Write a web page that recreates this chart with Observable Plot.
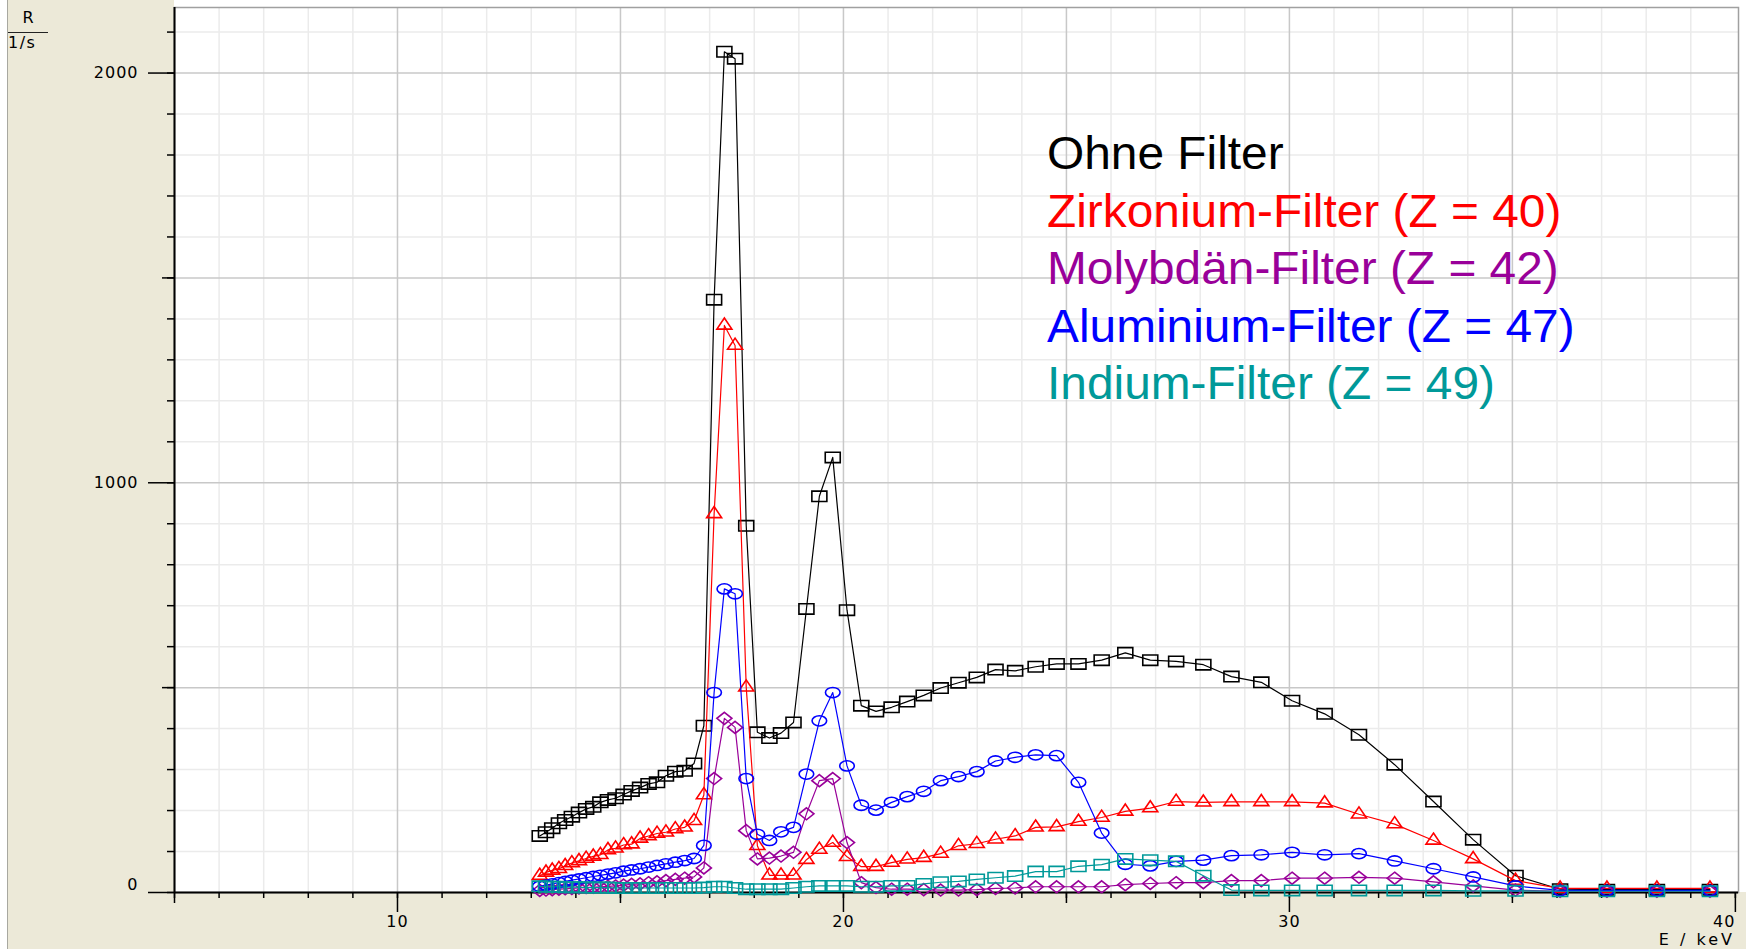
<!DOCTYPE html>
<html><head><meta charset="utf-8">
<script src="https://cdn.jsdelivr.net/npm/d3@7"></script>
<script src="https://cdn.jsdelivr.net/npm/@observablehq/plot@0.6"></script>
<style>
html,body{margin:0;padding:0;background:#fff;}
#wrap{position:relative;width:1746px;height:949px;overflow:hidden;background:#fff;}
#beige{position:absolute;left:7px;top:0;width:1739px;height:949px;background:#ECE9D8;border-left:1px solid #a8a8a0;}
#white{position:absolute;left:174px;top:0;width:1572px;height:892px;background:#fff;}
#chart{position:absolute;left:0;top:0;}
.lg{position:absolute;left:1047px;top:124px;font-family:Arial,"Liberation Sans",sans-serif;font-size:47px;line-height:57.5px;transform-origin:0 0;white-space:nowrap;}
.ax{position:absolute;font-family:"DejaVu Sans",sans-serif;font-size:16px;color:#000;white-space:nowrap;}
</style></head>
<body>
<div id="wrap">
  <div id="beige"></div>
  <div id="white"></div>
  <div id="chart"></div>
  <div class="ax" style="left:8px;top:8px;width:40px;text-align:center;">R</div>
  <div style="position:absolute;left:8px;top:32px;width:40px;height:1px;background:#222;"></div>
  <div class="ax" style="left:8px;top:33px;letter-spacing:1.5px;">1/s</div>
  <div class="ax" style="left:1635px;top:930px;width:100px;text-align:right;font-size:16px;letter-spacing:3px;">E / keV</div>
  <div class="lg" id="legend"></div>
</div>
<script>
// Energy E / keV of each measured point
const energy = [13.19, 13.33, 13.47, 13.62, 13.76, 13.91, 14.07, 14.23, 14.39, 14.55,
  14.72, 14.89, 15.07, 15.25, 15.44, 15.63, 15.82, 16.02, 16.23, 16.44,
  16.65, 16.87, 17.10, 17.33, 17.57, 17.82, 18.07, 18.34, 18.60, 18.88,
  19.17, 19.46, 19.76, 20.08, 20.40, 20.73, 21.08, 21.43, 21.80, 22.18,
  22.58, 22.99, 23.41, 23.85, 24.31, 24.78, 25.27, 25.79, 26.32, 26.88,
  27.46, 28.07, 28.70, 29.37, 30.06, 30.79, 31.56, 32.36, 33.23, 34.12,
  35.07, 36.07, 37.12, 38.24, 39.43];

// Count rate R / (1/s)
const ohneFilter = [138, 147, 157, 169, 177, 185, 195, 204, 209, 220,
  226, 230, 239, 248, 256, 265, 269, 285, 295, 297,
  315, 407, 1447, 2052, 2035, 895, 391, 377, 389, 415,
  692, 967, 1062, 689, 456, 442, 452, 466, 481, 499,
  512, 525, 544, 541, 551, 558, 558, 567, 585, 567,
  564, 556, 527, 513, 468, 436, 385, 312, 222, 129,
  41, 8, 7, 7, 7];
const zirkonium = [41, 49, 54, 58, 65, 72, 77, 83, 88, 92,
  104, 108, 116, 118, 132, 138, 144, 147, 155, 159,
  175, 238, 924, 1384, 1335, 501, 114, 42, 42, 42,
  80, 105, 122, 87, 63, 63, 73, 81, 85, 95,
  114, 119, 130, 138, 159, 160, 173, 183, 198, 206,
  222, 220, 221, 221, 221, 218, 191, 167, 127, 82,
  29, 10, 10, 10, 10];
const molybdaen = [5, 6, 7, 8, 9, 10, 11, 12, 13, 14,
  15, 16, 18, 20, 21, 24, 26, 29, 32, 35,
  38, 60, 278, 425, 403, 151, 82, 84, 89, 98,
  192, 273, 278, 122, 24, 12, 8, 8, 7, 6,
  6, 7, 10, 11, 14, 14, 14, 14, 19, 22,
  24, 24, 29, 29, 35, 35, 37, 35, 26, 16,
  6, 3, 3, 3, 3];
const aluminium = [15, 18, 21, 24, 27, 30, 33, 36, 39, 42,
  45, 48, 52, 55, 58, 62, 66, 70, 74, 78,
  83, 115, 488, 741, 729, 278, 142, 127, 148, 159,
  289, 419, 488, 309, 213, 201, 220, 234, 247, 273,
  283, 295, 321, 330, 336, 334, 269, 145, 69, 65,
  76, 79, 90, 92, 98, 92, 95, 77, 58, 38,
  16, 5, 5, 5, 5];
const indium = [15, 14, 14, 14, 13, 13, 13, 12, 12, 12,
  12, 11, 11, 11, 11, 11, 11, 11, 11, 11,
  11, 12, 14, 14, 11, 8, 8, 8, 8, 11,
  14, 16, 16, 16, 14, 14, 16, 16, 21, 25,
  27, 32, 36, 40, 51, 51, 64, 68, 82, 79,
  76, 41, 6, 5, 5, 5, 5, 5, 5, 4,
  4, 3, 3, 3, 3];

const seriesNames = ["Ohne Filter", "Zirkonium-Filter (Z = 40)", "Molybdän-Filter (Z = 42)", "Aluminium-Filter (Z = 47)", "Indium-Filter (Z = 49)"];
const seriesColors = ["#000000", "#ff0000", "#990099", "#0000ff", "#009999"];
const seriesValues = [ohneFilter, zirkonium, molybdaen, aluminium, indium];

// ticks
const xLabelTicks = [10, 20, 30];
const xEndTick = [40];
const xMediumTicks = [5, 15, 25, 35];
const xMinorTicks = d3.range(5, 41, 1);
const yLabelTicks = [1000, 2000];
const yZeroTick = [0];
const yMediumTicks = [500, 1500];
const yMinorTicks = d3.range(0, 2200, 100);

// marker shapes (≈15 px wide, slightly flattened like the original)
const square = {draw(c){c.moveTo(-7.5,-5.2);c.lineTo(7.5,-5.2);c.lineTo(7.5,5.2);c.lineTo(-7.5,5.2);c.closePath();}};
const triangle = {draw(c){c.moveTo(0,-7.4);c.lineTo(7.5,3.7);c.lineTo(-7.5,3.7);c.closePath();}};
const diamond = {draw(c){c.moveTo(0,-6);c.lineTo(7.5,0);c.lineTo(0,6);c.lineTo(-7.5,0);c.closePath();}};
const ellipse = {draw(c){const a=7.3,b=5.1,k=0.5523;c.moveTo(a,0);c.bezierCurveTo(a,b*k,a*k,b,0,b);c.bezierCurveTo(-a*k,b,-a,b*k,-a,0);c.bezierCurveTo(-a,-b*k,-a*k,-b,0,-b);c.bezierCurveTo(a*k,-b,a,-b*k,a,0);c.closePath();}};
const seriesSymbols = [square, triangle, diamond, ellipse, square];

const series = seriesNames.map((name, k) => ({
  name, color: seriesColors[k], symbol: seriesSymbols[k],
  rows: energy.map((e, i) => ({E: e, R: seriesValues[k][i]}))
}));

const seriesMarks = series.flatMap(s => [
  Plot.line(s.rows, {x: "E", y: "R", stroke: s.color, strokeWidth: 1.2}),
  Plot.dot(s.rows, {x: "E", y: "R", r: 5, symbol: s.symbol, stroke: s.color, fill: "none", strokeWidth: 1.6})
]);

const chart = Plot.plot({
  width: 1746, height: 949,
  marginLeft: 174, marginRight: 8, marginTop: 7, marginBottom: 57,
  x: {domain: [5, 40.07]},
  y: {domain: [0, 2160]},
  style: {background: "transparent", fontFamily: "DejaVu Sans, sans-serif", fontSize: "16px", color: "#000", letterSpacing: "1px"},
  marks: [
    Plot.gridX(xMinorTicks.filter(d => d % 5 !== 0), {stroke: "#ebebeb", strokeOpacity: 1, strokeWidth: 1.5}),
    Plot.gridY(yMinorTicks.filter(d => d % 500 !== 0), {stroke: "#ebebeb", strokeOpacity: 1, strokeWidth: 1.5}),
    Plot.gridX([10, 15, 20, 25, 30, 35], {stroke: "#c8c8c8", strokeOpacity: 1, strokeWidth: 1.5}),
    Plot.gridY([500, 1000, 1500, 2000], {stroke: "#c8c8c8", strokeOpacity: 1, strokeWidth: 1.5}),
    Plot.frame({stroke: "#a0a0a0", strokeWidth: 1.5}),
    Plot.axisX(xMinorTicks, {tickSize: 6, tickFormat: () => "", label: null, strokeWidth: 1.5}),
    Plot.axisX(xMediumTicks, {tickSize: 11, tickFormat: () => "", label: null, strokeWidth: 1.5}),
    Plot.axisX(xLabelTicks, {tickSize: 20, tickPadding: 3, tickFormat: d => String(d), label: null, strokeWidth: 1.5}),
    Plot.axisX(xEndTick, {tickSize: 20, tickPadding: 3, tickFormat: d => String(d), textAnchor: "end", label: null, strokeWidth: 1.5}),
    Plot.axisY(yMinorTicks, {tickSize: 7, tickFormat: () => "", label: null, strokeWidth: 1.5}),
    Plot.axisY(yMediumTicks, {tickSize: 12, tickFormat: () => "", label: null, strokeWidth: 1.5}),
    Plot.axisY(yLabelTicks, {tickSize: 26, tickPadding: 10, tickFormat: d => String(d), label: null, strokeWidth: 1.5}),
    Plot.axisY(yZeroTick, {tickSize: 26, tickFormat: () => "", label: null, strokeWidth: 1.5}),
    Plot.text(yZeroTick, {x: 5, y: d => d, text: d => String(d), textAnchor: "end", dx: -36, dy: -8, fill: "#000"}),
    Plot.ruleX([5], {stroke: "#000", strokeWidth: 2}),
    Plot.ruleY([0], {stroke: "#000", strokeWidth: 2}),
    ...seriesMarks
  ]
});
document.getElementById("chart").appendChild(chart);

const lg = document.getElementById("legend");
const spans = series.map(s => {
  const d = document.createElement("div");
  const sp = document.createElement("span");
  sp.textContent = s.name;
  d.style.color = s.color;
  d.appendChild(sp);
  lg.appendChild(d);
  return sp;
});
// match the horizontal extent of the original lettering (≈514 px for the second line)
const w = spans[1].offsetWidth || 514;
const sx = Math.max(0.8, Math.min(1.25, 514 / w));
lg.style.transform = `scaleX(${sx})`;
</script>
</body></html>
